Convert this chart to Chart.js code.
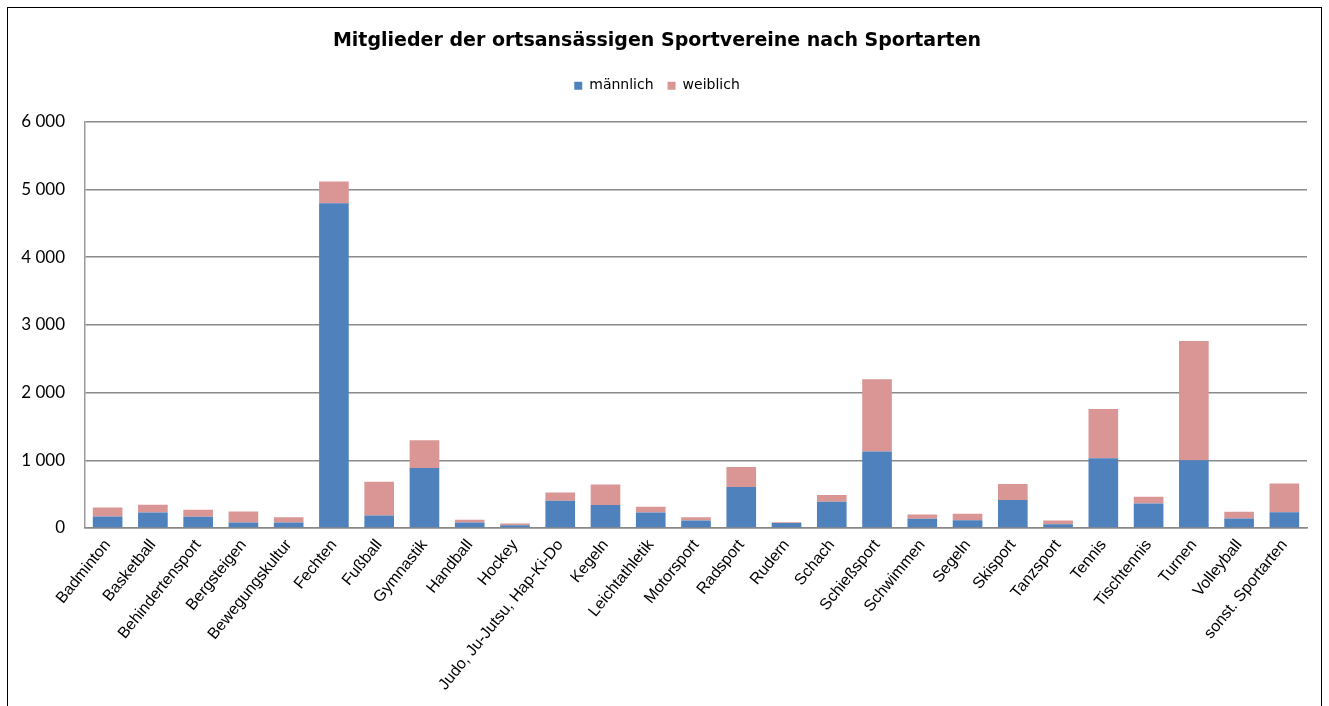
<!DOCTYPE html>
<html>
<head>
<meta charset="utf-8">
<script src="https://cdn.jsdelivr.net/npm/chart.js@4.4.1/dist/chart.umd.min.js"></script>
<style>
html,body{margin:0;padding:0;background:#fff;}
#wrap{position:relative;width:1329px;height:706px;}
</style>
</head>
<body>
<div id="wrap"><canvas id="c" width="1329" height="706"></canvas></div>
<script>
const categories = ["Badminton","Basketball","Behindertensport","Bergsteigen","Bewegungskultur","Fechten","Fußball","Gymnastik","Handball","Hockey","Judo, Ju-Jutsu, Hap-Ki-Do","Kegeln","Leichtathletik","Motorsport","Radsport","Rudern","Schach","Schießsport","Schwimmen","Segeln","Skisport","Tanzsport","Tennis","Tischtennis","Turnen","Volleyball","sonst. Sportarten"];
const maennlich = [170,230,166,81,81,4797,185,886,81,41,403,338,230,111,604,75,388,1129,136,116,412,56,1030,363,1000,141,234];
const weiblich  = [134,114,104,163,79,322,499,410,40,26,123,306,84,49,297,10,98,1067,64,94,237,55,726,99,1763,99,425];
const yTicks = [0,1000,2000,3000,4000,5000,6000];
const fmt = v => String(v).replace(/\B(?=(\d{3})+(?!\d))/g, ' ');

const frame = {
  id:'frame',
  afterDraw(chart){
    const ctx = chart.ctx;
    ctx.save();
    ctx.strokeStyle = '#000';
    ctx.lineWidth = 1;
    ctx.strokeRect(7.5, 7.5, 1314, 720);
    ctx.restore();
  }
};
const legendMargin = {
  id:'legendMargin',
  beforeInit(chart){
    const orig = chart.legend.fit;
    chart.legend.fit = function(){ orig.bind(chart.legend)(); this.height += 19; };
  }
};

new Chart(document.getElementById('c'), {
  type:'bar',
  data:{
    labels:categories,
    datasets:[
      {label:'männlich', data:maennlich, backgroundColor:'#4F81BD', borderWidth:0},
      {label:'weiblich', data:weiblich, backgroundColor:'#D99694', borderWidth:0}
    ]
  },
  options:{
    responsive:false,
    animation:false,
    layout:{padding:{top:30,left:7,right:22,bottom:0}},
    datasets:{bar:{categoryPercentage:1.0, barPercentage:0.655}},
    plugins:{
      title:{display:true,text:'Mitglieder der ortsansässigen Sportvereine nach Sportarten',
        font:{family:'DejaVu Sans, Arial',size:19,weight:'bold'},color:'#000',padding:{top:0,bottom:12}},
      legend:{position:'top',labels:{boxWidth:8,boxHeight:8,padding:14,color:'#000',
        font:{family:'DejaVu Sans, sans-serif',size:14}}},
      tooltip:{enabled:false}
    },
    scales:{
      x:{stacked:true,
        grid:{display:false,drawTicks:false},
        border:{display:true,color:'#888',width:1.5},
        ticks:{autoSkip:false,minRotation:51,maxRotation:51,padding:8,color:'#000',
          font:{family:'Liberation Sans, Arial',size:16}},
        afterFit(s){ s.height = 178; }
      },
      y:{stacked:true,min:0,max:6000,
        afterBuildTicks(s){ s.ticks = yTicks.map(v=>({value:v})); },
        grid:{color:'#8a8a8a',lineWidth:1.5,drawTicks:false},
        border:{display:true,color:'#9a9a9a',width:1.5},
        ticks:{padding:20,color:'#000',font:{family:'Lato, Calibri, sans-serif',size:17},callback:v=>fmt(v)},
        afterFit(s){ s.width = 78; }
      }
    }
  },
  plugins:[frame, legendMargin]
});
</script>
</body>
</html>
